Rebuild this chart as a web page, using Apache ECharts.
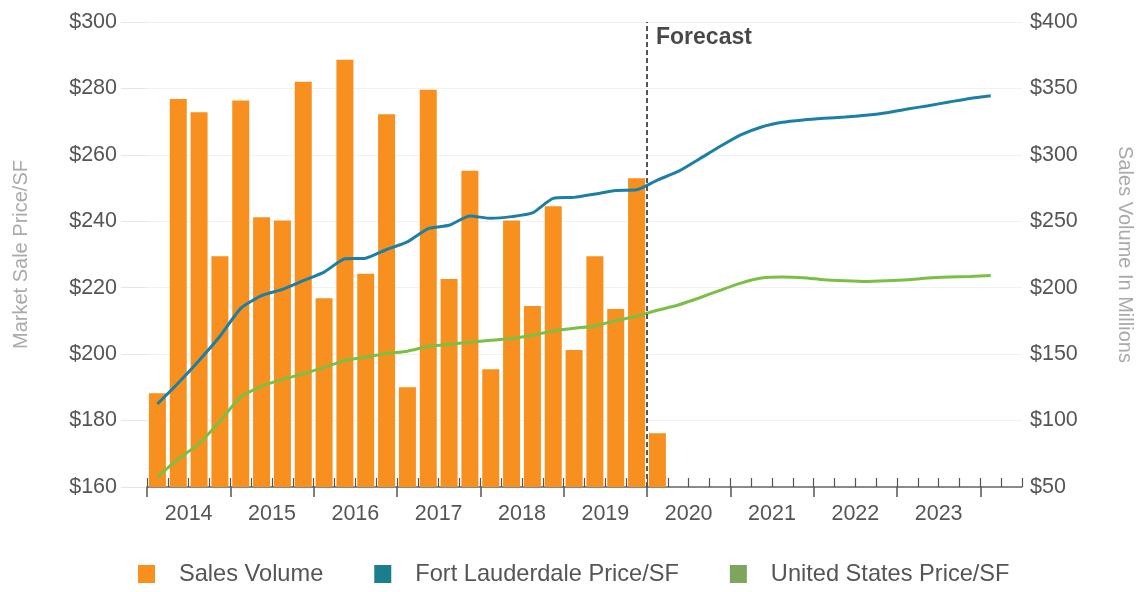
<!DOCTYPE html>
<html><head><meta charset="utf-8">
<script src="https://cdn.jsdelivr.net/npm/echarts@6/dist/echarts.min.js"></script>
<style>html,body{margin:0;padding:0;background:#fff}#c{width:1137px;height:592px}</style>
</head><body><div id="c"></div>
<script>
// ---- data ----
const years = ['2014','2015','2016','2017','2018','2019','2020','2021','2022','2023'];
const quarters = [];
for (let y = 2014; y <= 2024; y++) for (let q = 1; q <= 4; q++) if (quarters.length < 42) quarters.push(y + ' Q' + q);

// Sales volume ($M), 2014 Q1 .. 2020 Q1
const salesVolume = [120.5, 342, 332, 223.6, 341, 253, 250.5, 355, 192, 371.6, 210.5, 330.6,
                     125, 349, 206.6, 288, 138.7, 250.5, 186.3, 261.4, 153.1, 223.6, 183.9, 282.3, 90.5];
// Market sale price / SF, 2014 Q1 .. 2024 Q1
const fortLauderdale = [185, 191.3, 198.1, 205.4, 213.8, 217.6, 219.5, 222.1, 224.7, 228.7, 228.9, 231.5,
                        233.8, 237.8, 238.8, 241.6, 240.9, 241.4, 242.5, 246.9, 247.2, 248.2, 249.3, 249.5,
                        252.4, 255, 258.7, 262.5, 266, 268.4, 269.8, 270.5, 271, 271.4, 271.9, 272.7,
                        273.8, 274.8, 275.9, 277, 277.8];
const unitedStates = [163.1, 168.4, 173.1, 179.8, 187.1, 190.3, 192.4, 194.1, 196, 198.1, 199.1, 200.2,
                      200.9, 202.3, 203, 203.6, 204.2, 204.7, 205.7, 207, 207.8, 208.5, 210.1, 211.4,
                      213.2, 214.8, 216.9, 219.2, 221.4, 222.9, 223.2, 223, 222.4, 222.1, 221.9, 222.1,
                      222.4, 222.9, 223.2, 223.4, 223.7];
const forecastStart = 24; // quarter index where the forecast begins
const leftTicks = [160, 300, 20];
const rightTicks = [50, 400, 50];

// tick positions (in quarter units on an overlay value axis)
const majorTicks = [], minorTicks = [], labelPos = [];
for (let i = 0; i <= 42; i++) { minorTicks.push(i); if (i % 4 === 0 && i <= 40) majorTicks.push(i); }
for (let i = 0; i < years.length; i++) labelPos.push(i * 4 + 2);

const FONT = '"Liberation Sans", Arial, sans-serif';
const chart = echarts.init(document.getElementById('c'), null, {renderer: 'canvas'});
chart.setOption({
  animation: false,
  textStyle: {fontFamily: FONT},
  grid: {left: 147, right: 115, top: 22, bottom: 105, containLabel: false, outerBoundsMode: 'none'},
  legend: {
    bottom: 1, left: 133, icon: 'rect', itemWidth: 17, itemHeight: 18, itemGap: 51,
    textStyle: {fontSize: 23.6, color: '#555', padding: [0, 0, 0, 19], fontFamily: FONT},
    data: [
      {name: 'Sales Volume', itemStyle: {color: '#f7901e'}},
      {name: 'Fort Lauderdale Price/SF', itemStyle: {color: '#1a7f8c'}},
      {name: 'United States Price/SF', itemStyle: {color: '#7ea55c'}}
    ]
  },
  xAxis: [
    {type: 'category', data: quarters, boundaryGap: true, position: 'bottom',
     axisLine: {show: true, onZero: false, lineStyle: {color: '#666', width: 1.5}},
     axisTick: {show: false}, axisLabel: {show: false}, splitLine: {show: false}},
    {type: 'value', min: 0, max: 42, position: 'bottom',
     axisLine: {show: false, onZero: false},
     axisTick: {show: true, inside: false, length: 10, customValues: majorTicks, lineStyle: {color: '#555', width: 1.5}},
     axisLabel: {show: true, customValues: labelPos, margin: 16, fontSize: 21.5, color: '#555', fontFamily: FONT,
                 formatter: v => years[(v - 2) / 4] || ''},
     splitLine: {show: false}},
    {type: 'value', min: 0, max: 42, position: 'bottom',
     axisLine: {show: false, onZero: false},
     axisTick: {show: true, inside: true, length: 9, customValues: minorTicks, lineStyle: {color: '#555', width: 1.2}},
     axisLabel: {show: false}, splitLine: {show: false}}
  ],
  yAxis: [
    {type: 'value', min: leftTicks[0], max: leftTicks[1], interval: leftTicks[2], position: 'left',
     name: 'Market Sale Price/SF', nameLocation: 'middle', nameGap: 116, nameRotate: 90,
     nameTextStyle: {color: '#aaa', fontSize: 20, fontFamily: FONT},
     axisLine: {show: false}, axisTick: {show: true, length: 26, lineStyle: {color: '#e6e6e6'}},
     axisLabel: {margin: 30, fontSize: 21.5, color: '#555', fontFamily: FONT, formatter: v => '$' + v},
     splitLine: {show: true, lineStyle: {color: '#f1f1f1'}}},
    {type: 'value', min: rightTicks[0], max: rightTicks[1], interval: rightTicks[2], position: 'right',
     name: 'Sales Volume In Millions', nameLocation: 'middle', nameGap: 93, nameRotate: -90,
     nameTextStyle: {color: '#aaa', fontSize: 20, fontFamily: FONT},
     axisLine: {show: false}, axisTick: {show: false},
     axisLabel: {margin: 8, fontSize: 21.5, color: '#555', fontFamily: FONT, formatter: v => '$' + v},
     splitLine: {show: false}}
  ],
  series: [
    {name: 'Sales Volume', type: 'bar', xAxisIndex: 0, yAxisIndex: 1, data: salesVolume,
     barWidth: 17, itemStyle: {color: '#f7901e'}},
    {name: 'Fort Lauderdale Price/SF', type: 'line', xAxisIndex: 0, yAxisIndex: 0, data: fortLauderdale,
     symbol: 'none', smooth: 0.2, lineStyle: {color: '#1c7fa6', width: 3}, itemStyle: {color: '#1c7fa6'}},
    {name: 'United States Price/SF', type: 'line', xAxisIndex: 0, yAxisIndex: 0, data: unitedStates,
     symbol: 'none', smooth: 0.2, lineStyle: {color: '#7cbf45', width: 3}, itemStyle: {color: '#7cbf45'}},
    {name: 'forecast', type: 'scatter', xAxisIndex: 1, yAxisIndex: 0, data: [[forecastStart, leftTicks[1]]],
     symbolSize: 0, silent: true, z: 5,
     label: {show: true, position: 'right', distance: 9, offset: [0, 16], formatter: 'Forecast',
             fontSize: 23, fontWeight: 'bold', color: '#1a1a1a', fontFamily: FONT},
     markLine: {silent: true, symbol: 'none', label: {show: false},
                lineStyle: {color: '#555', type: [5, 3], width: 2},
                data: [{xAxis: forecastStart}]}}
  ]
});
</script></body></html>
